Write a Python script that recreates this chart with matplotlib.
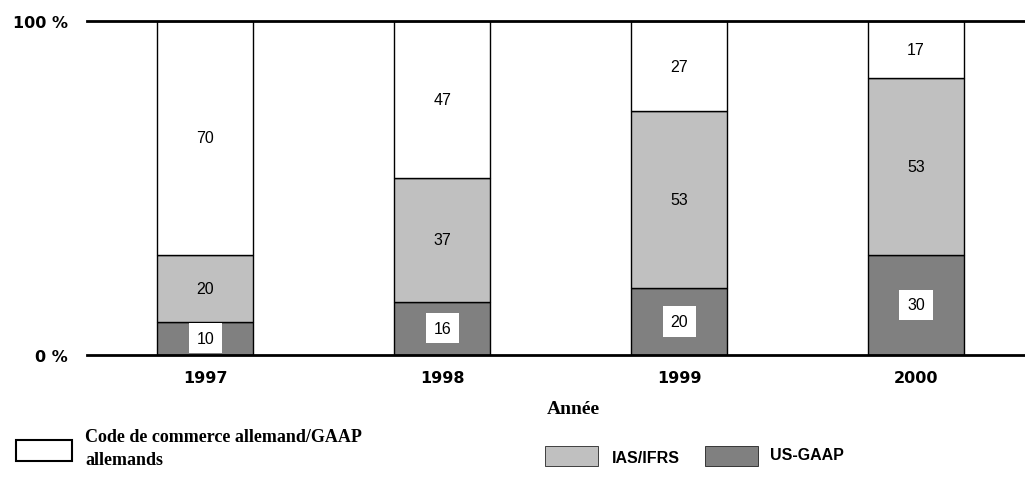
import matplotlib.pyplot as plt
from matplotlib.patches import Rectangle

years = ['1997', '1998', '1999', '2000']
us_gaap = [10, 16, 20, 30]
ias_ifrs = [20, 37, 53, 53]
hgb = [70, 47, 27, 17]

c_us = '#808080'
c_ias = '#c0c0c0'
c_hgb = '#ffffff'

fig = plt.figure(figsize=(10.25, 4.81), dpi=100)
ax = fig.add_axes([87 / 1025, 125 / 481, 1 - 87 / 1025, 334 / 481])

x = list(range(len(years)))
w = 0.405
ax.bar(x, us_gaap, w, color=c_us, edgecolor='black', linewidth=1)
bottom2 = us_gaap
ax.bar(x, ias_ifrs, w, bottom=bottom2, color=c_ias, edgecolor='black', linewidth=1)
bottom3 = [a + b for a, b in zip(us_gaap, ias_ifrs)]
ax.bar(x, hgb, w, bottom=bottom3, color=c_hgb, edgecolor='black', linewidth=1)

# value labels
for i in x:
    ax.text(i, us_gaap[i] / 2, str(us_gaap[i]), ha='center', va='center',
            fontsize=11.5, family='Liberation Sans',
            bbox=dict(facecolor='white', edgecolor='none', pad=5.5))
    ax.text(i, bottom2[i] + ias_ifrs[i] / 2, str(ias_ifrs[i]), ha='center', va='center',
            fontsize=11.5, family='Liberation Sans')
    ax.text(i, bottom3[i] + hgb[i] / 2, str(hgb[i]), ha='center', va='center',
            fontsize=11.5, family='Liberation Sans')

ax.set_xlim(-0.5, 3.46)
ax.set_ylim(0, 100)
ax.axhline(100, color='black', linewidth=2, zorder=5, clip_on=False)
for s in ['top', 'right', 'left']:
    ax.spines[s].set_visible(False)
ax.spines['bottom'].set_linewidth(2)
ax.spines['bottom'].set_zorder(5)

ax.set_yticks([0, 100])
ax.set_yticklabels(['0 %', '100 %'], fontsize=11.5, fontweight='heavy', family='DejaVu Sans')
ax.set_xticks(x)
ax.set_xticklabels(years, fontsize=11.5, fontweight='heavy', family='DejaVu Sans')
ax.tick_params(axis='y', length=0, pad=14)
ax.tick_params(axis='x', length=0, pad=11)

fig.text(547 / 1025, 1 - 410 / 481, 'Année', ha='left', va='center', fontsize=14,
         fontweight='bold', family='Liberation Serif')

# legend
fig.patches.append(Rectangle((16 / 1025, 1 - 462 / 481), 56 / 1025, 21 / 481,
                             facecolor=c_hgb, edgecolor='black', linewidth=1.5,
                             transform=fig.transFigure))
fig.text(85 / 1025, 1 - 449 / 481, 'Code de commerce allemand/GAAP\nallemands',
         ha='left', va='center', fontsize=13, fontweight='bold',
         family='Liberation Serif', linespacing=1.5)
fig.patches.append(Rectangle((545 / 1025, 1 - 467 / 481), 53 / 1025, 20 / 481,
                             facecolor=c_ias, edgecolor='black', linewidth=0.5,
                             transform=fig.transFigure))
fig.text(612 / 1025, 1 - 459 / 481, 'IAS/IFRS', ha='left', va='center',
         fontsize=11.5, fontweight='bold', family='Liberation Sans')
fig.patches.append(Rectangle((705 / 1025, 1 - 467 / 481), 53 / 1025, 20 / 481,
                             facecolor=c_us, edgecolor='black', linewidth=0.5,
                             transform=fig.transFigure))
fig.text(770 / 1025, 1 - 456 / 481, 'US-GAAP', ha='left', va='center',
         fontsize=11.5, fontweight='bold', family='Liberation Sans')

fig.savefig('out.png', dpi=100)
